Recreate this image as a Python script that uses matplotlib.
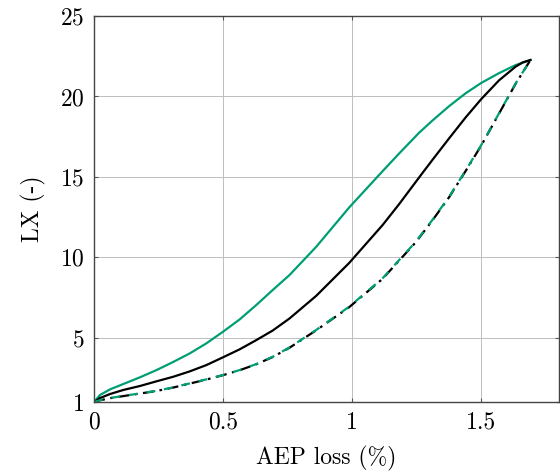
import matplotlib
matplotlib.use("Agg")
import matplotlib.pyplot as plt

plt.rcParams['font.family'] = 'serif'
plt.rcParams['font.serif'] = ['cmr10', 'DejaVu Serif']
plt.rcParams['mathtext.fontset'] = 'cm'
plt.rcParams['axes.formatter.use_mathtext'] = True

# values
x_green = [0, 0.023, 0.062, 0.113, 0.178, 0.242, 0.306, 0.371, 0.435, 0.499, 0.564,
           0.628, 0.692, 0.757, 0.860, 0.988, 1.117, 1.181, 1.259, 1.310, 1.375,
           1.439, 1.5, 1.568, 1.632, 1.69]
y_green = [1, 1.44, 1.79, 2.12, 2.54, 2.99, 3.49, 4.03, 4.65, 5.37, 6.14,
           7.03, 7.97, 8.9, 10.65, 13.1, 15.35, 16.45, 17.75, 18.5, 19.4,
           20.2, 20.85, 21.45, 21.95, 22.27]

x_black = [0, 0.023, 0.062, 0.113, 0.178, 0.242, 0.306, 0.371, 0.435, 0.499, 0.564,
           0.628, 0.692, 0.757, 0.860, 0.988, 1.117, 1.181, 1.265, 1.310, 1.375,
           1.439, 1.5, 1.568, 1.632, 1.66, 1.69]
y_black = [1, 1.25, 1.5, 1.75, 2.0, 2.29, 2.57, 2.91, 3.30, 3.78, 4.28,
           4.85, 5.45, 6.2, 7.6, 9.65, 12.0, 13.3, 15.1, 16.05, 17.4,
           18.7, 19.85, 21.0, 21.85, 22.12, 22.27]

x_dash = [0, 0.023, 0.062, 0.113, 0.178, 0.242, 0.306, 0.371, 0.435, 0.499, 0.564,
          0.628, 0.692, 0.757, 0.860, 0.988, 1.117, 1.246, 1.310, 1.375, 1.439,
          1.5, 1.568, 1.632, 1.69]
y_green_dash = [1, 1.12, 1.25, 1.38, 1.54, 1.70, 1.91, 2.16, 2.41, 2.68, 2.99,
                3.36, 3.82, 4.40, 5.48, 6.93, 8.69, 10.97, 12.32, 13.77, 15.4,
                17.0, 18.95, 20.8, 22.27]
y_black_dash = [1, 1.11, 1.24, 1.37, 1.53, 1.69, 1.90, 2.15, 2.40, 2.67, 2.98,
                3.35, 3.80, 4.38, 5.46, 6.90, 8.66, 10.94, 12.29, 13.74, 15.37,
                16.97, 18.93, 20.78, 22.27]

green = '#009e73'

fig = plt.figure(figsize=(5.6, 4.73), dpi=100)
ax = fig.add_axes([0.168, 0.150, 0.830, 0.816])

ax.plot(x_green, y_green, color=green, lw=1.6)
ax.plot(x_black, y_black, color='black', lw=1.6)
ax.plot(x_dash, y_black_dash, color='black', lw=1.6, dashes=(5, 2.5, 1.2, 2.5))
ax.plot(x_dash, y_green_dash, color=green, lw=1.6, dashes=(4, 4))

ax.set_xlim(0, 1.8)
ax.set_ylim(1, 25)
ax.set_xticks([0, 0.5, 1, 1.5])
ax.set_xticklabels(['0', '0.5', '1', '1.5'])
ax.set_yticks([1, 5, 10, 15, 20, 25])
ax.grid(True, color='#bdbdbd', lw=0.7)
ax.tick_params(direction='in', length=3, width=0.8, color='#555555',
               top=True, right=True, labelsize=17, pad=7)
for s in ax.spines.values():
    s.set_color('#444444')
    s.set_linewidth(1.0)

ax.set_xlabel('AEP loss (%)', fontsize=17, labelpad=9)
ax.set_ylabel('LX (-)', fontsize=17, labelpad=10)

fig.savefig('out.png', dpi=100)
